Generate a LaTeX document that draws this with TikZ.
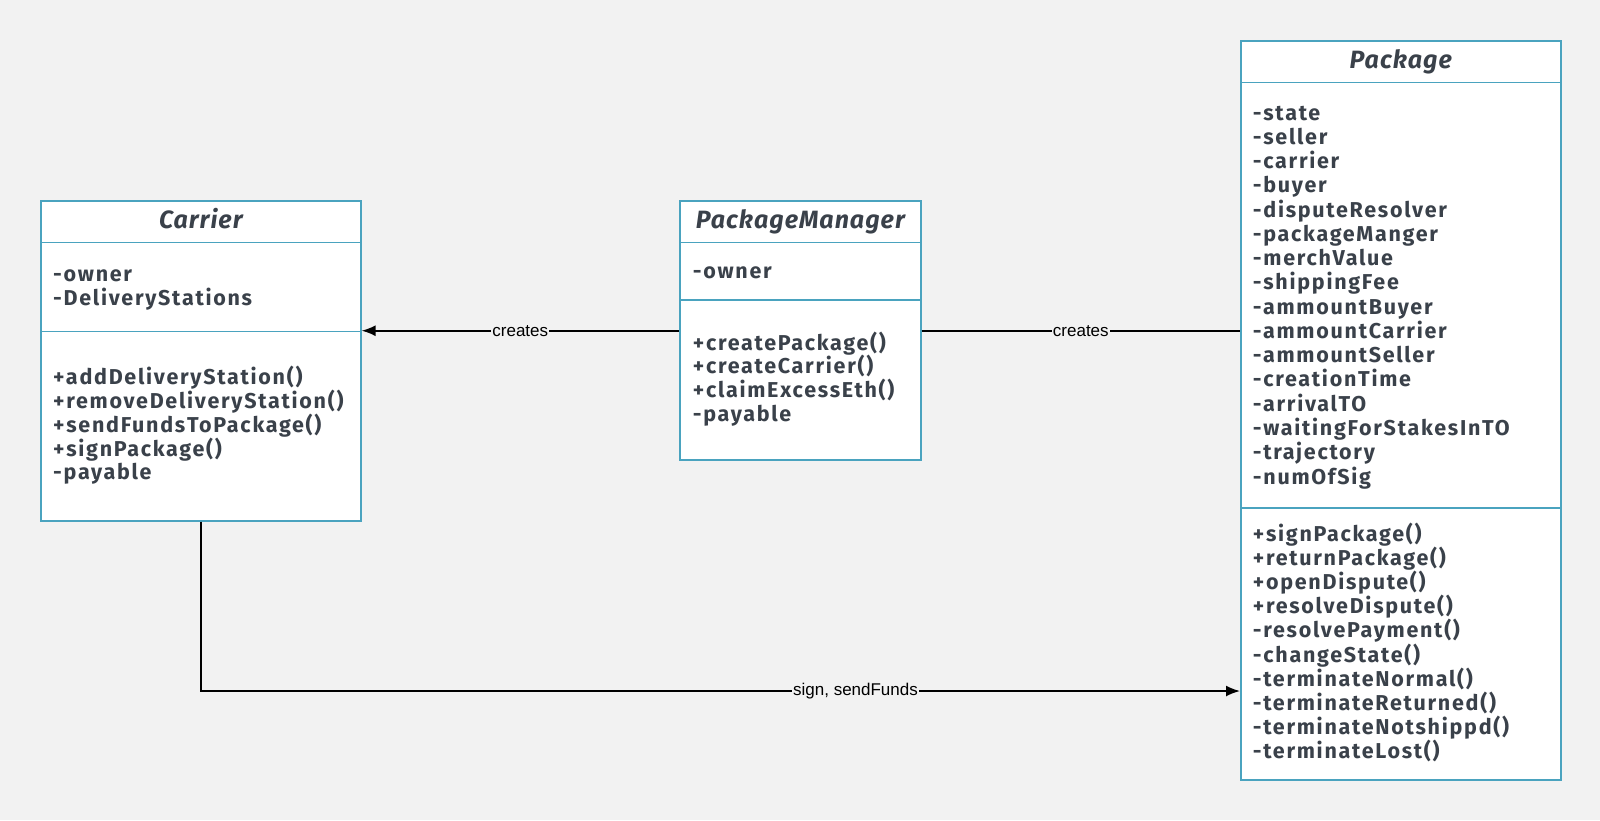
\documentclass[tikz,border=0pt]{standalone}
\usepackage{fontspec}
\setmainfont{Fira Sans}
\newfontfamily\umlfont[LetterSpace=8]{Fira Sans}
\newfontfamily\titlefont[LetterSpace=4]{Fira Sans}
\newfontfamily\labelfont{Liberation Sans}
\usetikzlibrary{arrows.meta}
\usetikzlibrary{positioning}
\definecolor{umlblue}{HTML}{4AA3BF}
\definecolor{umltext}{HTML}{3A414A}
\definecolor{canvas}{HTML}{F2F2F2}
\tikzset{
	compartment/.style={draw=umlblue, line width=1.6pt, fill=white, inner sep=0pt, anchor=north west},
	classtitle/.style={compartment, text=umltext, text height=14pt, text depth=0pt,
		font=\titlefont\fontsize{25}{30}\selectfont\bfseries\itshape},
	member/.style={anchor=base west, inner sep=0pt, text=umltext, font=\umlfont\fontsize{21.5}{24}\selectfont\bfseries},
	link/.style={draw=black, line width=1.8pt},
	arrowlink/.style={link, -{Latex[length=14pt,width=11pt]}},
	linklabel/.style={fill=canvas, inner sep=1pt, text=black, font=\labelfont\fontsize{17}{20}\selectfont},
}

\begin{document}
\begin{tikzpicture}[x=1pt, y=-1pt]
	\fill[canvas] (0,0) rectangle (1600,820);
	\useasboundingbox (0,0) rectangle (1600,820);
	% Carrier
	\node[classtitle, minimum width=320pt, minimum height=41.7pt] (carrierTitle) at (40,200) {Carrier};
	\node[compartment, minimum width=320pt, minimum height=89pt] (carrierAttrs) at (40,241.7) {};
	\node[compartment, minimum width=320pt, minimum height=189.3pt] (carrierOps) at (40,330.7) {};
	\foreach \t [count=\i from 0] in {-owner, -DeliveryStations}
		\node[member] at (53, 281.7+24*\i) {\t};
	\foreach \t [count=\i from 0] in {+addDeliveryStation(), +removeDeliveryStation(),
		+sendFundsToPackage(), +signPackage(), -payable}
		\node[member] at (53, 384.3+23.9*\i) {\t};
	% PackageManager
	\node[classtitle, minimum width=241pt, minimum height=41.7pt] (pmTitle) at (679,200) {PackageManager};
	\node[compartment, minimum width=241pt, minimum height=57.6pt] (pmAttrs) at (679,241.7) {};
	\node[compartment, minimum width=241pt, minimum height=160pt] (pmOps) at (679,299.3) {};
	\node[member] at (692.7, 278.3) {-owner};
	\foreach \t [count=\i from 0] in {+createPackage(), +createCarrier(), +claimExcessEth(), -payable}
		\node[member] at (692.7, 350+23.9*\i) {\t};
	% Package
	\node[classtitle, minimum width=320pt, minimum height=41.7pt] (pkgTitle) at (1240,40) {Package};
	\node[compartment, minimum width=320pt, minimum height=425.6pt] (pkgAttrs) at (1240,81.7) {};
	\node[compartment, minimum width=320pt, minimum height=272pt] (pkgOps) at (1240,507.3) {};
	\foreach \t [count=\i from 0] in {-state, -seller, -carrier, -buyer, -disputeResolver,
		-packageManger, -merchValue, -shippingFee, -ammountBuyer, -ammountCarrier,
		-ammountSeller, -creationTime, -arrivalTO, -waitingForStakesInTO, -trajectory, -numOfSig}
		\node[member] at (1252.7, 120+24.27*\i) {\t};
	\foreach \t [count=\i from 0] in {+signPackage(), +returnPackage(), +openDispute(),
		+resolveDispute(), -resolvePayment(), -changeState(), -terminateNormal(),
		-terminateReturned(), -terminateNotshippd(), -terminateLost()}
		\node[member] at (1252.7, 541+24.2*\i) {\t};
	% Connectors
	\draw[arrowlink] (carrierOps.north east -| pmOps.west) -- node[linklabel] {creates} (carrierOps.north east);
	\draw[link] (carrierOps.north east -| pmOps.east) -- node[linklabel] {creates} (carrierOps.north east -| pkgAttrs.west);
	\coordinate (signIn) at (1240,691);
	\draw[arrowlink] (carrierOps.south) |- node[linklabel, pos=0.815] {sign, sendFunds} (signIn);
\end{tikzpicture}
\end{document}
